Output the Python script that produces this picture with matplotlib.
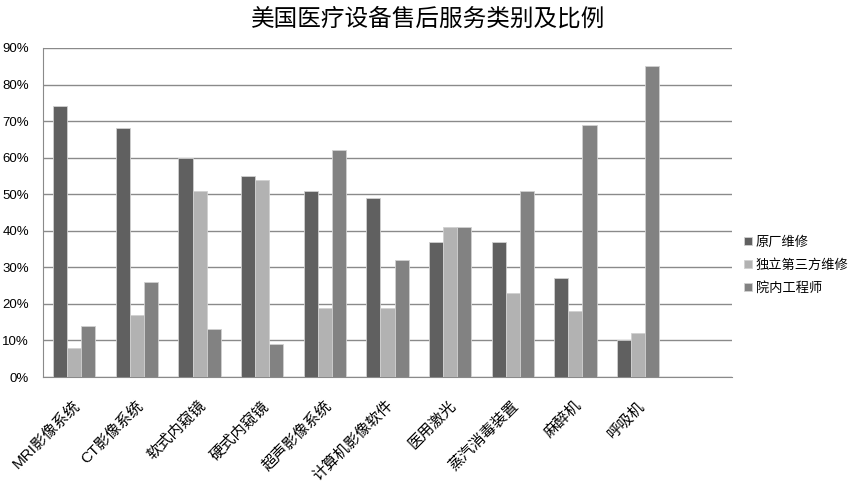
import numpy as np
import matplotlib
matplotlib.use('Agg')
import matplotlib.pyplot as plt
from matplotlib.ticker import PercentFormatter

plt.rcParams['font.family'] = ['Liberation Sans', 'Noto Sans CJK SC', 'DejaVu Sans']

categories = ['MRI影像系统', 'CT影像系统', '软式内窥镜', '硬式内窥镜', '超声影像系统',
              '计算机影像软件', '医用激光', '蒸汽消毒装置', '麻醉机', '呼吸机']
series_names = ['原厂维修', '独立第三方维修', '院内工程师']
oem = [74, 68, 60, 55, 51, 49, 37, 37, 27, 10]
third_party = [8, 17, 51, 54, 19, 19, 41, 23, 18, 12]
in_house = [14, 26, 13, 9, 62, 32, 41, 51, 69, 85]
colors = ['#606060', '#b2b2b2', '#828282']

fig = plt.figure(figsize=(8.56, 4.84), dpi=100)
ax = fig.add_axes([43 / 856, 1 - 377 / 484, (732 - 43) / 856, (377 - 48) / 484])

x = np.arange(len(categories))
w = 0.225
for i, (vals, name, c) in enumerate(zip([oem, third_party, in_house], series_names, colors)):
    ax.bar(x + (i - 1) * w, vals, width=w, color=c, edgecolor='#d0d0d0', linewidth=0.6,
           label=name, zorder=3)

ax.set_xlim(-0.5, len(categories) + 0.5)
ax.set_ylim(0, 90)
ax.set_yticks(range(0, 91, 10))
ax.yaxis.set_major_formatter(PercentFormatter(decimals=0))
ax.grid(axis='y', color='#8a8a8a', linewidth=1, zorder=0)
ax.tick_params(axis='y', length=0, labelsize=9.5, pad=10)
ax.tick_params(axis='x', length=0)
for s in ['top', 'right']:
    ax.spines[s].set_visible(False)
ax.spines['left'].set_color('#8a8a8a')
ax.spines['bottom'].set_color('#8a8a8a')

ax.set_xticks(x - 0.02)
ax.set_xticklabels(categories, rotation=45, ha='right', va='top', rotation_mode='anchor',
                   fontsize=11)
for lbl in ax.get_xticklabels():
    lbl.set_y(-0.05)

fig.suptitle('美国医疗设备售后服务类别及比例', x=0.5, y=0.985, fontsize=17,
             family=['Noto Sans CJK SC'])

leg = ax.legend(loc='center left', bbox_to_anchor=(1.0, 0.34), frameon=False,
                handlelength=0.6, handleheight=0.6, handletextpad=0.3,
                labelspacing=0.75, prop={'family': ['Noto Sans CJK SC'], 'size': 9.5})

fig.savefig('out.png', dpi=100)
